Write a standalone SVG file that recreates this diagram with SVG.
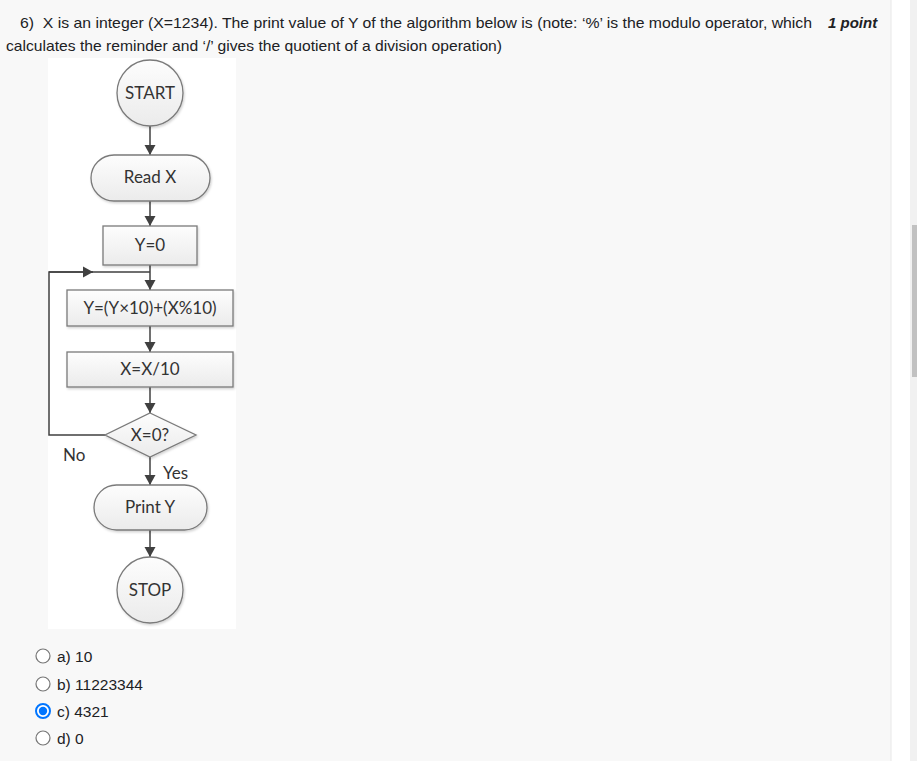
<svg xmlns="http://www.w3.org/2000/svg" width="917" height="761" viewBox="0 0 917 761">
  <style>
    .q { font-family: "Liberation Sans", Arial, sans-serif; font-size: 15px; fill: #202124; }
    .opt { font-family: "Liberation Sans", Arial, sans-serif; font-size: 15.5px; fill: #202124; }
    .pt { font-family: "Liberation Sans", Arial, sans-serif; font-size: 15px; font-weight: bold; font-style: italic; fill: #202124; }
    .lbl { font-family: Lato, "Open Sans", sans-serif; font-size: 17px; fill: #333333; text-anchor: middle; }
    .side { font-family: Lato, "Open Sans", sans-serif; font-size: 17px; fill: #333333; }
    .node { fill: url(#nodeFill); stroke: #7a7a7a; stroke-width: 1.3; filter: url(#soft); }
    .wire { fill: none; stroke: #404040; stroke-width: 1.5; }
    .radio { fill: #ffffff; stroke: #767676; stroke-width: 1.2; }
  </style>
  <defs>
    <linearGradient id="nodeFill" x1="0" y1="0" x2="0" y2="1">
      <stop offset="0" stop-color="#fdfdfd"/>
      <stop offset="1" stop-color="#ebebeb"/>
    </linearGradient>
    <filter id="soft" x="-10%" y="-10%" width="130%" height="130%">
      <feDropShadow dx="1" dy="1.5" stdDeviation="1.2" flood-color="#000000" flood-opacity="0.18"/>
    </filter>
    <marker id="head" markerWidth="12" markerHeight="12" refX="10" refY="6" orient="auto" markerUnits="userSpaceOnUse">
      <path d="M0,0.5 L10,6 L0,11.5 Z" fill="#404040"/>
    </marker>
  </defs>

  <!-- page background, side strip and scrollbar -->
  <rect x="0" y="0" width="917" height="761" fill="#f8f8f8"/>
  <rect x="891" y="0" width="19" height="761" fill="#ffffff"/>
  <line x1="891" y1="0" x2="891" y2="761" stroke="#e8e8e8" stroke-width="1"/>
  <rect x="910" y="0" width="7" height="761" fill="#f1f1f1"/>
  <rect x="912" y="225" width="5" height="152" fill="#c1c1c1"/>

  <!-- question text -->
  <text class="q" x="20" y="28" textLength="792" lengthAdjust="spacingAndGlyphs" xml:space="preserve">6)  X is an integer (X=1234). The print value of Y of the algorithm below is (note: ‘%’ is the modulo operator, which</text>
  <text class="pt" x="828" y="28">1 point</text>
  <text class="q" x="6" y="51" textLength="496" lengthAdjust="spacingAndGlyphs">calculates the reminder and ‘/’ gives the quotient of a division operation)</text>

  <!-- flowchart canvas -->
  <rect x="48" y="58" width="188" height="571" fill="#ffffff"/>

  <!-- connectors -->
  <g id="connectors">
    <line class="wire" x1="150" y1="126" x2="150" y2="155" marker-end="url(#head)"/>
    <line class="wire" x1="150" y1="201" x2="150" y2="226" marker-end="url(#head)"/>
    <line class="wire" x1="150" y1="265" x2="150" y2="290" marker-end="url(#head)"/>
    <line class="wire" x1="150" y1="326" x2="150" y2="352" marker-end="url(#head)"/>
    <line class="wire" x1="150" y1="387" x2="150" y2="413" marker-end="url(#head)"/>
    <line class="wire" x1="150" y1="457" x2="150" y2="485" marker-end="url(#head)"/>
    <line class="wire" x1="150" y1="530" x2="150" y2="557" marker-end="url(#head)"/>
    <!-- "No" loop back to the top of the loop body -->
    <polyline class="wire" points="105,435 49,435 49,272 150,272"/>
    <line class="wire" x1="49" y1="272" x2="93" y2="272" marker-end="url(#head)"/>
    <text class="side" x="63" y="461">No</text>
    <text class="side" x="163" y="479">Yes</text>
  </g>

  <!-- nodes -->
  <g id="start">
    <circle class="node" cx="150" cy="93" r="33"/>
    <text class="lbl" x="150" y="99">START</text>
  </g>
  <g id="read-x">
    <rect class="node" x="91" y="155" width="119" height="46" rx="23" ry="23"/>
    <text class="lbl" x="150" y="183">Read X</text>
  </g>
  <g id="init-y">
    <rect class="node" x="103" y="226" width="94" height="39"/>
    <text class="lbl" x="150" y="251">Y=0</text>
  </g>
  <g id="update-y">
    <rect class="node" x="67" y="290" width="166" height="36"/>
    <text class="lbl" x="150" y="314">Y=(Y×10)+(X%10)</text>
  </g>
  <g id="update-x">
    <rect class="node" x="67" y="352" width="166" height="35"/>
    <text class="lbl" x="150" y="375">X=X/10</text>
  </g>
  <g id="test-x">
    <polygon class="node" points="150,413 196,435 150,457 105,435"/>
    <text class="lbl" x="150" y="441">X=0?</text>
  </g>
  <g id="print-y">
    <rect class="node" x="94" y="485" width="113" height="45" rx="22.5" ry="22.5"/>
    <text class="lbl" x="150" y="513">Print Y</text>
  </g>
  <g id="stop">
    <circle class="node" cx="150" cy="590" r="33"/>
    <text class="lbl" x="150" y="596">STOP</text>
  </g>

  <!-- answer options -->
  <g id="options">
    <circle class="radio" cx="43" cy="656" r="7"/>
    <text class="opt" x="57" y="662">a) 10</text>
    <circle class="radio" cx="43" cy="684" r="7"/>
    <text class="opt" x="57" y="690">b) 11223344</text>
    <circle cx="43" cy="711" r="7" fill="#ffffff" stroke="#0075ff" stroke-width="2"/>
    <circle cx="43" cy="711" r="4.2" fill="#0075ff"/>
    <text class="opt" x="57" y="717">c) 4321</text>
    <circle class="radio" cx="43" cy="738" r="7"/>
    <text class="opt" x="57" y="744">d) 0</text>
  </g>
</svg>
